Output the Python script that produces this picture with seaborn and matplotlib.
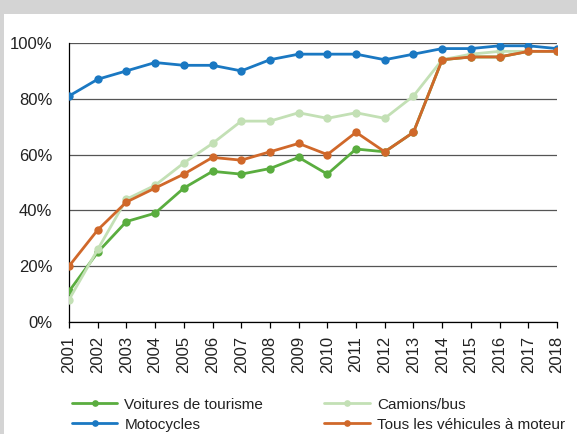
import pandas as pd
import matplotlib.pyplot as plt
import seaborn as sns
from matplotlib.patches import Rectangle
from matplotlib.ticker import PercentFormatter

years = list(range(2001, 2019))
voitures = [11, 25, 36, 39, 48, 54, 53, 55, 59, 53, 62, 61, 68, 94, 95, 95, 97, 97]
camions = [8, 26, 44, 49, 57, 64, 72, 72, 75, 73, 75, 73, 81, 94, 96, 97, 97, 97]
motocycles = [81, 87, 90, 93, 92, 92, 90, 94, 96, 96, 96, 94, 96, 98, 98, 99, 99, 98]
tous = [20, 33, 43, 48, 53, 59, 58, 61, 64, 60, 68, 61, 68, 94, 95, 95, 97, 97]

series = {
    "Voitures de tourisme": voitures,
    "Camions/bus": camions,
    "Motocycles": motocycles,
    "Tous les véhicules à moteur": tous,
}
colors = {
    "Voitures de tourisme": "#5aad3f",
    "Camions/bus": "#c3e0b5",
    "Motocycles": "#1a78c2",
    "Tous les véhicules à moteur": "#d0682a",
}

df = pd.DataFrame({"Année": years, **series}).melt(id_vars="Année", var_name="Série", value_name="Taux")

sns.set_style("white")
plt.rcParams['font.family'] = ['Liberation Sans', 'DejaVu Sans']
fs = 11

fig = plt.figure(figsize=(5.77, 4.34), dpi=100)
fig.add_artist(Rectangle((0, 1 - 14 / 434), 1, 14 / 434, transform=fig.transFigure,
                         facecolor="#d4d4d4", edgecolor="none", zorder=-5))
fig.add_artist(Rectangle((0, 0), 4 / 577, 1, transform=fig.transFigure,
                         facecolor="#d4d4d4", edgecolor="none", zorder=-5))

ax = fig.add_axes([69 / 577, 1 - 322 / 434, (557 - 69) / 577, (322 - 43) / 434])
ax.set_facecolor("white")

for i, name in enumerate(series):
    sub = df[df["Série"] == name]
    sns.lineplot(data=sub, x="Année", y="Taux", ax=ax, color=colors[name], marker="o",
                 markersize=6, markeredgewidth=0, linewidth=2, label=name, zorder=3 + i)

ax.set_xlim(2001, 2018)
ax.set_ylim(0, 100)
ax.set_xticks(years)
ax.set_xticklabels([str(y) for y in years], rotation=90)
ax.set_yticks([0, 20, 40, 60, 80, 100])
ax.yaxis.set_major_formatter(PercentFormatter(decimals=0))
ax.set_xlabel("")
ax.set_ylabel("")
ax.grid(axis="y", color="#555555", linewidth=0.9)
ax.grid(axis="x", visible=False)
for s in ["top", "right"]:
    ax.spines[s].set_visible(False)
ax.spines["left"].set_color("black")
ax.spines["bottom"].set_color("black")
ax.spines["left"].set_linewidth(0.9)
ax.spines["bottom"].set_linewidth(0.9)
ax.tick_params(axis="y", length=4, width=0.9, color="#555555", pad=8, labelsize=12, labelcolor="#222222")
ax.tick_params(axis="x", length=4, width=0.9, color="black", pad=6, labelsize=12, labelcolor="#222222",
               bottom=True)

handles, labels = ax.get_legend_handles_labels()
ax.get_legend().remove()
order = [0, 2, 1, 3]
fig.legend([handles[i] for i in order], [labels[i] for i in order], ncol=2,
           loc="upper left", bbox_to_anchor=(64 / 577, 1 - 390 / 434), frameon=False,
           fontsize=fs, handlelength=3.0, handletextpad=0.45, columnspacing=4.0,
           labelspacing=0.4, borderpad=0, markerscale=0.8, labelcolor="#222222")

fig.savefig("out.png", dpi=100)
